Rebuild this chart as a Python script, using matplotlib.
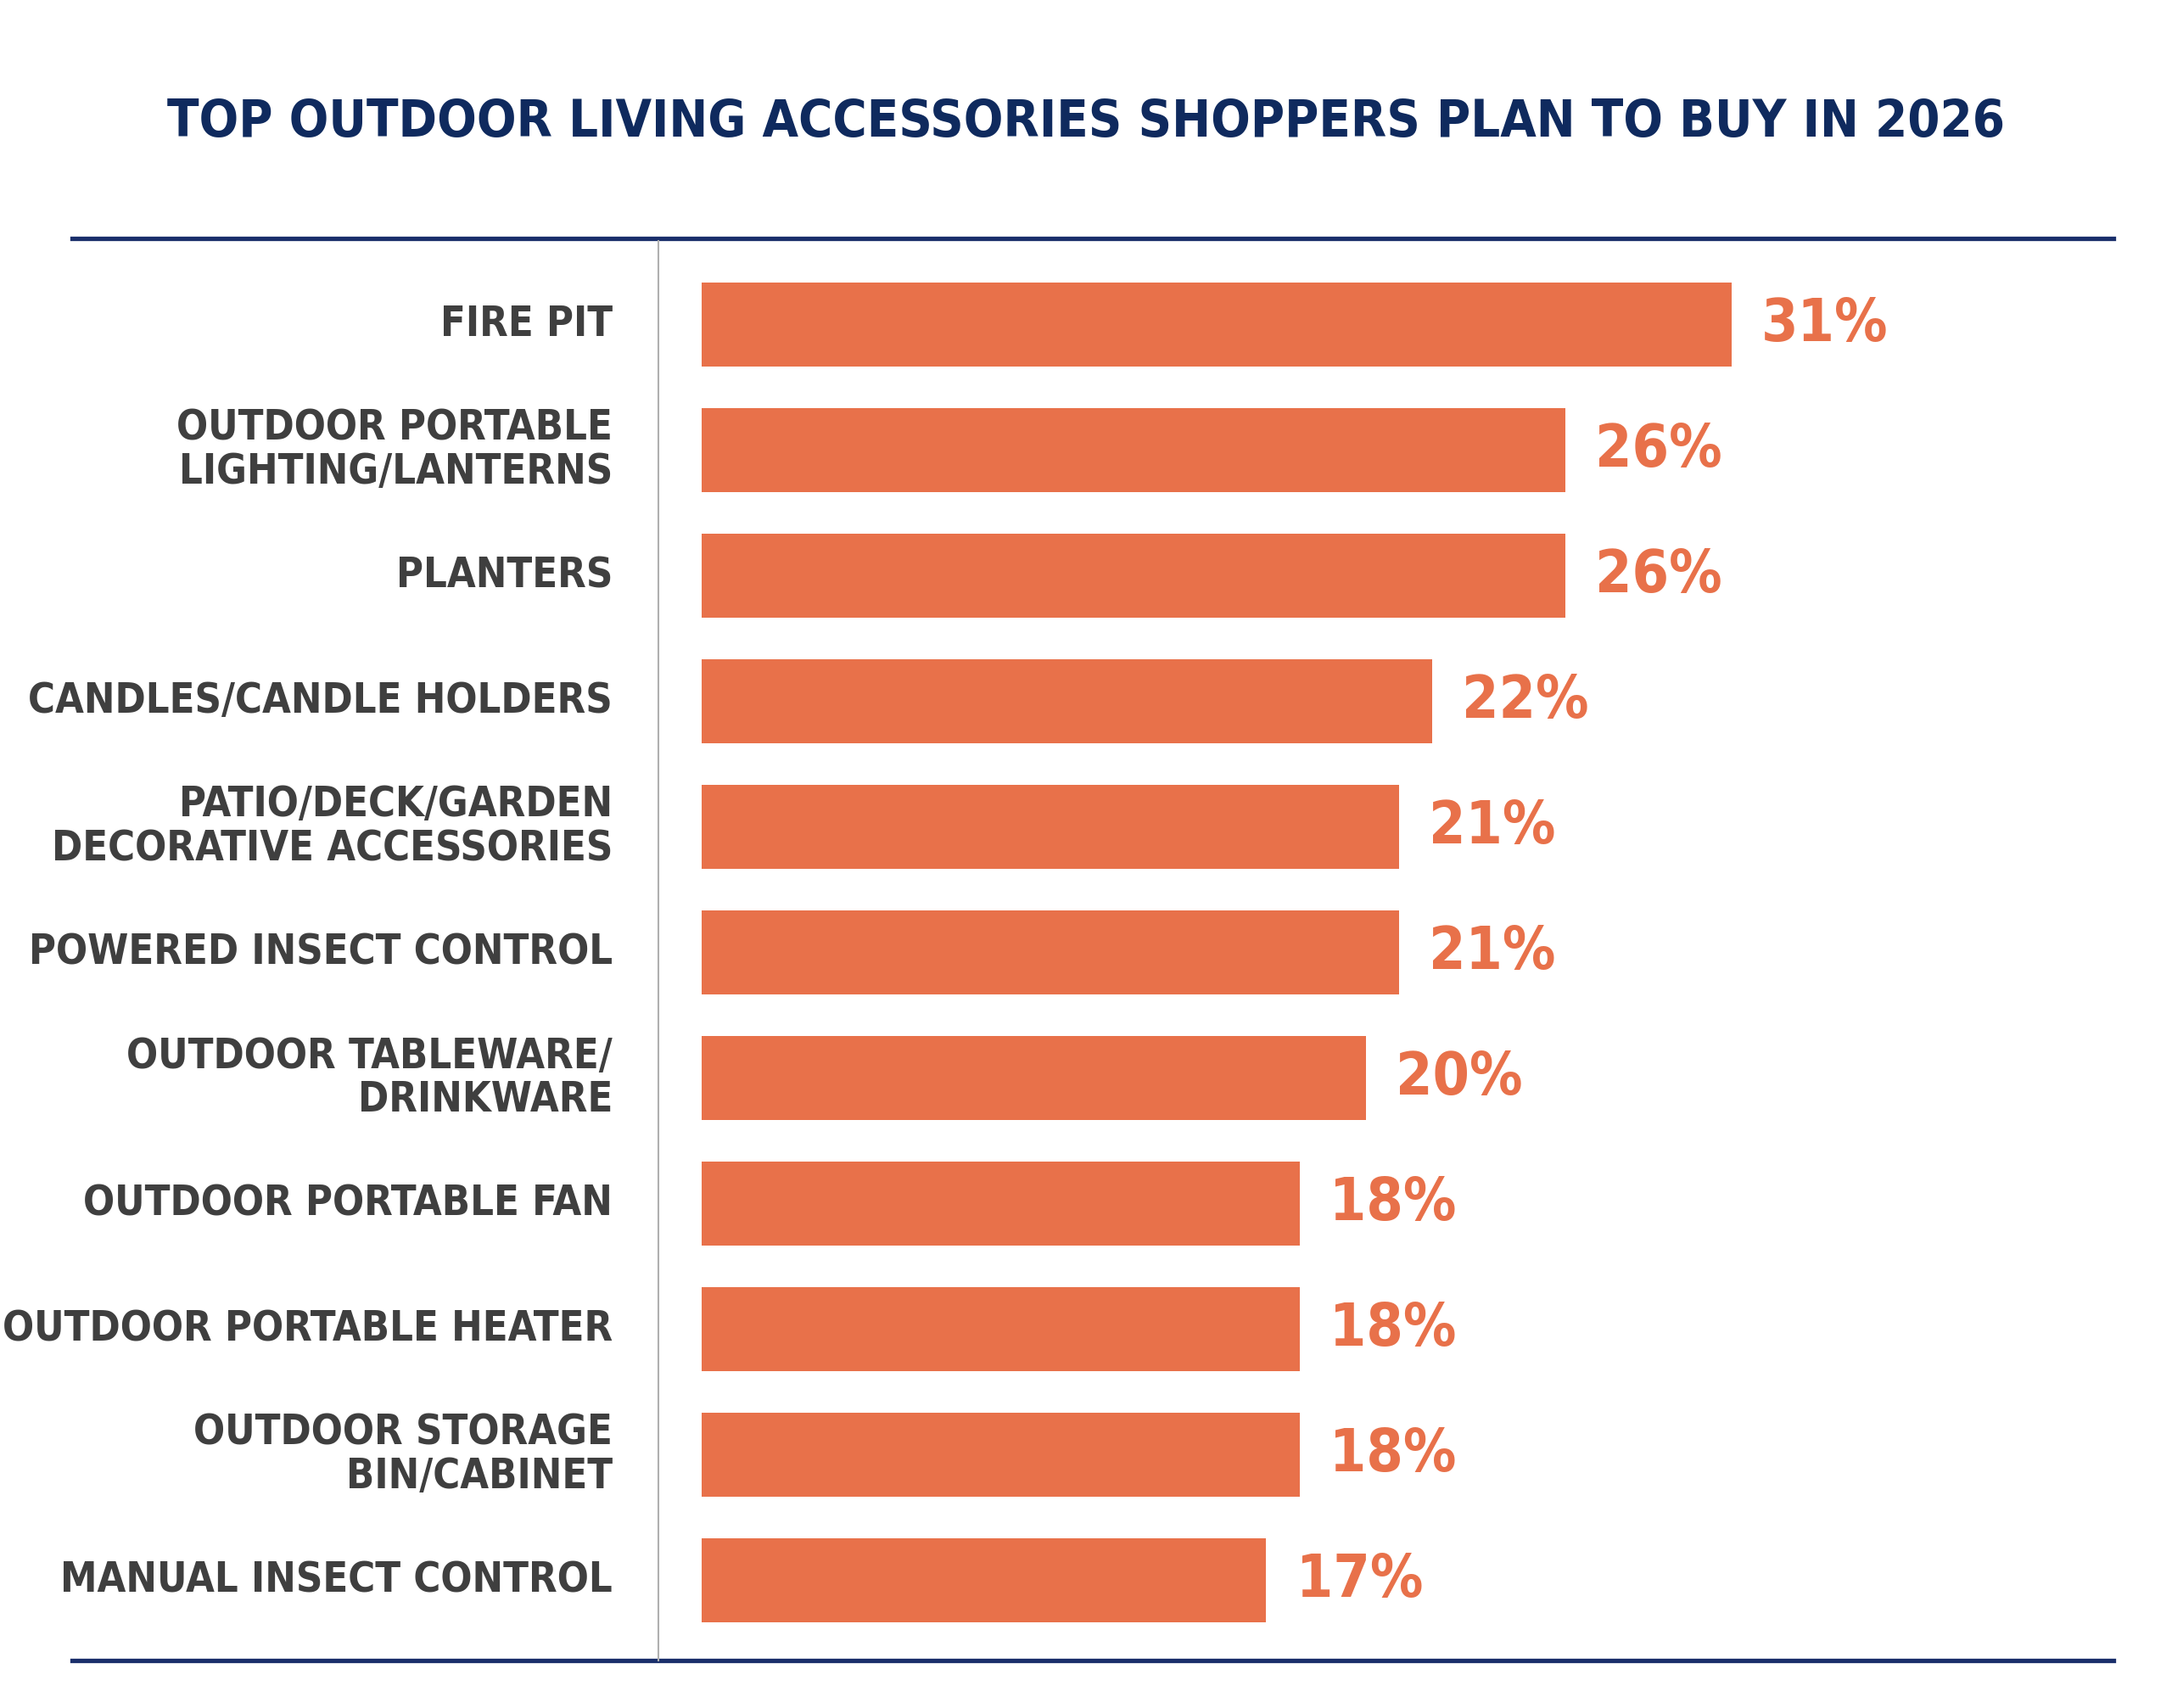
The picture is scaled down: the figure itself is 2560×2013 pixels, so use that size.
import matplotlib
matplotlib.use("Agg")
import matplotlib.pyplot as plt
from matplotlib.lines import Line2D
from matplotlib.transforms import blended_transform_factory

categories = [
    "FIRE PIT",
    "OUTDOOR PORTABLE\nLIGHTING/LANTERNS",
    "PLANTERS",
    "CANDLES/CANDLE HOLDERS",
    "PATIO/DECK/GARDEN\nDECORATIVE ACCESSORIES",
    "POWERED INSECT CONTROL",
    "OUTDOOR TABLEWARE/\nDRINKWARE",
    "OUTDOOR PORTABLE FAN",
    "OUTDOOR PORTABLE HEATER",
    "OUTDOOR STORAGE\nBIN/CABINET",
    "MANUAL INSECT CONTROL",
]
values = [31, 26, 26, 22, 21, 21, 20, 18, 18, 18, 17]

plt.rcParams['font.family'] = ['DejaVu Sans']

bar_color = "#e8714a"
navy = "#0f2a5e"
label_color = "#3f3f3f"

fig = plt.figure(figsize=(25.6, 20.13), dpi=100)
ax = fig.add_axes([0.323, 0.0277, 0.650, 0.8329])

ypos = list(range(len(values)))
ax.barh(ypos, values, height=0.665, color=bar_color)
ax.set_xlim(0, 42.5)
ax.set_ylim(10.64, -0.687)
ax.axis("off")

for y, v in zip(ypos, values):
    ax.text(v + 0.9, y, f"{v}%", va="center", ha="left", color=bar_color,
            fontsize=50, fontweight="bold", fontstretch="condensed")

trans = blended_transform_factory(fig.transFigure, ax.transData)
for y, c in zip(ypos, categories):
    ax.text(0.282, y, c, transform=trans, ha="right", va="center",
            color=label_color, fontsize=35, fontweight="bold",
            fontstretch="condensed", linespacing=1.1)

fig.text(0.5, 0.928, "TOP OUTDOOR LIVING ACCESSORIES SHOPPERS PLAN TO BUY IN 2026",
         ha="center", va="center", color=navy, fontsize=44, fontweight="bold",
         fontstretch="condensed")

for yy in (0.8606, 0.0277):
    fig.add_artist(Line2D([0.0333, 0.973], [yy, yy], color="#1a2f6b", lw=3.8))
fig.add_artist(Line2D([0.303, 0.303], [0.0277, 0.859], color="#b0b0b0", lw=1.5))

fig.savefig("out.png", dpi=100, facecolor="white")
